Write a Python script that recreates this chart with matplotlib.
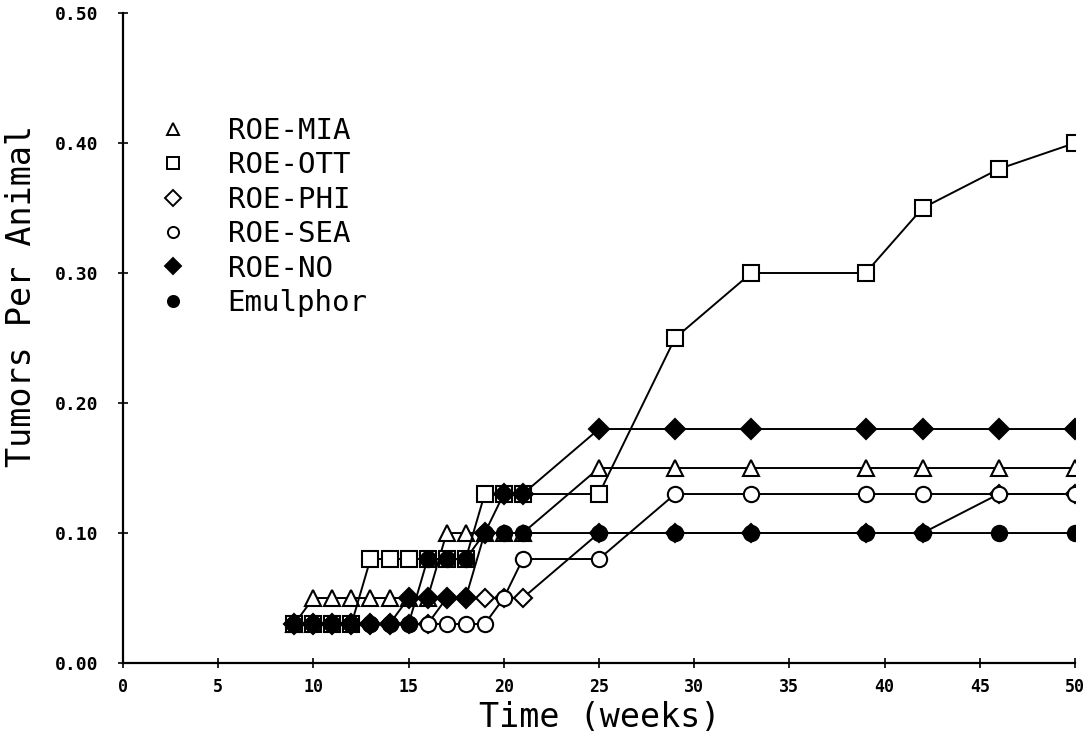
#Tumors per animal over time for the ROE groups and the Emulphor control

import numpy as np
import matplotlib.pyplot as plt
from matplotlib.lines import Line2D

#Data (weeks and tumors per animal)

weeks = [9, 10, 11, 12, 13, 14, 15, 16, 17, 18, 19, 20, 21, 25, 29, 33, 39, 42, 46, 50]

roe_mia = [0.03, 0.05, 0.05, 0.05, 0.05, 0.05, 0.05, 0.05, 0.10, 0.10, 0.10, 0.10, 0.10,
           0.15, 0.15, 0.15, 0.15, 0.15, 0.15, 0.15]
roe_ott = [0.03, 0.03, 0.03, 0.03, 0.08, 0.08, 0.08, 0.08, 0.08, 0.08, 0.13, 0.13, 0.13,
           0.13, 0.25, 0.30, 0.30, 0.35, 0.38, 0.40]
roe_phi = [0.03, 0.03, 0.03, 0.03, 0.03, 0.03, 0.03, 0.03, 0.05, 0.05, 0.05, 0.05, 0.05,
           0.10, 0.10, 0.10, 0.10, 0.10, 0.13, 0.13]
roe_sea = [0.03, 0.03, 0.03, 0.03, 0.03, 0.03, 0.03, 0.03, 0.03, 0.03, 0.03, 0.05, 0.08,
           0.08, 0.13, 0.13, 0.13, 0.13, 0.13, 0.13]
roe_no = [0.03, 0.03, 0.03, 0.03, 0.03, 0.03, 0.05, 0.05, 0.05, 0.05, 0.10, 0.13, 0.13,
          0.18, 0.18, 0.18, 0.18, 0.18, 0.18, 0.18]
emulphor = [0.03, 0.03, 0.03, 0.03, 0.03, 0.03, 0.03, 0.08, 0.08, 0.08, 0.10, 0.10, 0.10,
            0.10, 0.10, 0.10, 0.10, 0.10, 0.10, 0.10]

labels = ['ROE-MIA', 'ROE-OTT', 'ROE-PHI', 'ROE-SEA', 'ROE-NO', 'Emulphor']
series = [roe_mia, roe_ott, roe_phi, roe_sea, roe_no, emulphor]
markers = ['^', 's', 'D', 'o', 'D', 'o']
faces = ['white', 'white', 'white', 'white', 'black', 'black']
sizes = [11, 11, 9, 11, 10, 11]

x_ticks = np.arange(0, 51, 5)
y_ticks = [0.0, 0.1, 0.2, 0.3, 0.4, 0.5]
y_tick_labels = ['0.00', '0.10', '0.20', '0.30', '0.40', '0.50']

#Plot

fig = plt.figure(figsize=(10.91, 7.34), dpi=100)
ax = fig.add_axes([0.1127, 0.0967, 0.8726, 0.8856])

for y, m, fc, ms in zip(series, markers, faces, sizes):
    ax.plot(weeks, y, color='black', linewidth=1.4, marker=m, markersize=ms,
            markerfacecolor=fc, markeredgecolor='black', markeredgewidth=1.5)

ax.set_xlim(0, 50)
ax.set_ylim(0, 0.5)
ax.set_xticks(x_ticks)
ax.set_xticklabels([str(t) for t in x_ticks], fontfamily='DejaVu Sans Mono',
                   fontweight='bold', fontsize=12)
ax.set_yticks(y_ticks)
ax.set_yticklabels(y_tick_labels, fontfamily='DejaVu Sans Mono',
                   fontweight='bold', fontsize=13)
ax.tick_params(direction='inout', length=7, width=1.2)
ax.tick_params(axis='x', pad=7)
ax.tick_params(axis='y', pad=14)

ax.spines['top'].set_visible(False)
ax.spines['right'].set_visible(False)
ax.spines['left'].set_linewidth(1.6)
ax.spines['bottom'].set_linewidth(1.6)

ax.set_xlabel('Time (weeks)', fontfamily='DejaVu Sans Mono', fontsize=24)
ax.set_ylabel('Tumors Per Animal', fontfamily='DejaVu Sans Mono', fontsize=24)
ax.xaxis.set_label_coords(0.501, -0.058)
ax.yaxis.set_label_coords(-0.089, 0.565)

#Legend with markers only

handles = [Line2D([], [], linestyle='none', marker=m, markersize=8, markerfacecolor=fc,
                  markeredgecolor='black', markeredgewidth=1.4) for m, fc in zip(markers, faces)]
ax.legend(handles, labels, loc='upper left', bbox_to_anchor=(0.034, 0.840), frameon=False,
          prop={'family': 'DejaVu Sans Mono', 'size': 21}, handletextpad=1.28,
          labelspacing=0.22, handlelength=1.2, borderpad=0, borderaxespad=0)

plt.savefig('out.png', dpi=100)
